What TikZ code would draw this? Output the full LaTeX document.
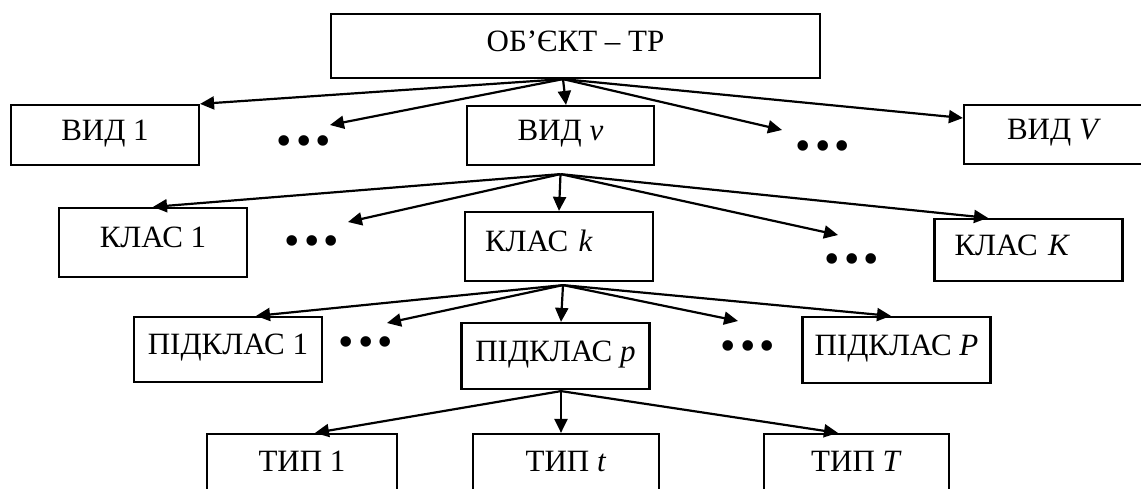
\documentclass[tikz,border=0pt]{standalone}
\usepackage{fontspec}
\setmainfont{Liberation Serif}
\usetikzlibrary{arrows.meta}
\begin{document}
\begin{tikzpicture}[x=1pt, y=-1pt, line width=2.2pt, font=\fontsize{31}{37}\selectfont, >={Triangle[length=14pt, width=13pt]},
		boxnode/.style={draw=black, text=black, shape=rectangle, minimum width=188pt, minimum height=66pt, text height=20pt, text depth=10pt},
		leftnode/.style={boxnode, text width=148pt, inner xsep=20pt, align=left},
		dotsnode/.style={text=black, inner sep=0pt, text height=0pt, text depth=0pt, font=\fontsize{44}{44}\selectfont}]
	\useasboundingbox (0,0) rectangle (1141,488);

	\node[boxnode, minimum width=489pt, minimum height=64pt] (obj) at (575.5,46) {ОБ’ЄКТ – ТР};

	\node[boxnode, minimum height=60pt] (vid_1) at (105,135) {ВИД 1};
	\node[boxnode, minimum width=187pt, minimum height=59pt] (vid_v) at (560.5,135.5) {ВИД \textit{v}};
	\node[boxnode, minimum width=196pt, minimum height=59pt] (vid_last) at (1062,134.5) {\hspace*{-16pt}ВИД \textit{V}};
	\node[dotsnode] (dots_vid_a) at (304,155) {•\hspace{4pt}•\hspace{4pt}•};
	\node[dotsnode] (dots_vid_b) at (823,160) {•\hspace{4pt}•\hspace{4pt}•};

	\node[boxnode, minimum height=69pt] (klas_1) at (153,242.5) {КЛАС 1};
	\node[leftnode, minimum height=69pt] (klas_k) at (559,246.5) {КЛАС \textit{k}};
	\node[leftnode, minimum height=62pt] (klas_last) at (1028.5,250) {КЛАС \textit{K}};
	\node[dotsnode] (dots_klas_a) at (312,255) {•\hspace{4pt}•\hspace{4pt}•};
	\node[dotsnode] (dots_klas_b) at (852,273) {•\hspace{4pt}•\hspace{4pt}•};

	\node[boxnode, minimum height=65pt] (pid_1) at (228,349.5) {ПІДКЛАС 1};
	\node[boxnode] (pid_p) at (555.5,356) {ПІДКЛАС \textit{p}};
	\node[boxnode] (pid_last) at (896.5,350) {ПІДКЛАС \textit{P}};
	\node[dotsnode] (dots_pid_a) at (366,356) {•\hspace{4pt}•\hspace{4pt}•};
	\node[dotsnode] (dots_pid_b) at (748,360) {•\hspace{4pt}•\hspace{4pt}•};

	\node[boxnode, minimum width=190pt, minimum height=64pt] (typ_1) at (302,466) {ТИП 1};
	\node[boxnode, minimum width=186pt, minimum height=64pt] (typ_t) at (566,466) {ТИП \textit{t}};
	\node[boxnode, minimum width=185pt, minimum height=64pt] (typ_last) at (856.5,466) {ТИП \textit{T}};

	\coordinate (obj_hub) at ([xshift=-12.5pt]obj.south);
	\coordinate (vid_hub) at ([yshift=-8pt]vid_v.south);
	\coordinate (klas_hub) at ([xshift=4pt, yshift=-3pt]klas_k.south);
	\coordinate (pid_hub) at ([xshift=5.5pt, yshift=-1pt]pid_p.south);

	\coordinate (dots_vid_a_in) at (330,125);
	\coordinate (dots_vid_b_in) at (782,130);
	\coordinate (dots_klas_a_in) at (348,222);
	\coordinate (dots_klas_b_in) at (838,235);
	\coordinate (dots_pid_a_in) at (387,323);
	\coordinate (dots_pid_b_in) at (738,321);

	\draw[->] (obj_hub) -- (vid_1.north east);
	\draw[->] (obj_hub) -- (dots_vid_a_in);
	\draw[->] (obj_hub) -- ([xshift=5.5pt]vid_v.north);
	\draw[->] (obj_hub) -- (dots_vid_b_in);
	\draw[->] (obj_hub) -- ([yshift=16.5pt]vid_last.west);

	\draw[->] (vid_hub) -- (klas_1.north);
	\draw[->] (vid_hub) -- (dots_klas_a_in);
	\draw[->] (vid_hub) -- (klas_k.north);
	\draw[->] (vid_hub) -- (dots_klas_b_in);
	\draw[->] (vid_hub) -- ([xshift=-40.5pt]klas_last.north);

	\draw[->] (klas_hub) -- ([xshift=28pt]pid_1.north);
	\draw[->] (klas_hub) -- (dots_pid_a_in);
	\draw[->] (klas_hub) -- ([xshift=5.5pt]pid_p.north);
	\draw[->] (klas_hub) -- (dots_pid_b_in);
	\draw[->] (klas_hub) -- ([xshift=-5.5pt]pid_last.north);

	\draw[->] (pid_hub) -- ([xshift=13pt]typ_1.north);
	\draw[->] (pid_hub) -- ([xshift=-5pt]typ_t.north);
	\draw[->] (pid_hub) -- ([xshift=-18.5pt]typ_last.north);
\end{tikzpicture}
\end{document}
